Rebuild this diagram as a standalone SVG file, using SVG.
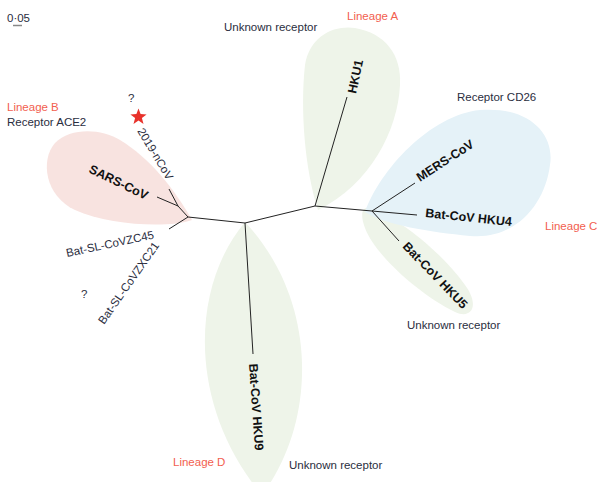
<svg xmlns="http://www.w3.org/2000/svg" width="597" height="482" viewBox="0 0 597 482">
<style>
.lbl{font-family:"Liberation Sans",Arial,sans-serif;font-size:11.5px;fill:#2a2d3e}
.red{font-family:"Liberation Sans",Arial,sans-serif;font-size:11.5px;fill:#f2604f}
.b{font-family:"Liberation Sans",Arial,sans-serif;font-size:12.5px;font-weight:bold;fill:#111}
.br{fill:none;stroke:#222;stroke-width:1}
</style>
<rect width="597" height="482" fill="#fff"/>
<g id="blobs">
<path id="blob-B" d="M192,220 C170,228 110,226 75,210 C45,196 40,160 55,143 C70,128 100,128 120,140 C150,158 175,190 192,220 Z" fill="#f8e3e0"/>
<path id="blob-A" d="M318,210 C305,170 300,110 305,65 C310,35 335,25 355,28 C385,33 402,55 400,85 C398,130 370,185 318,210 Z" fill="#eef4e9"/>
<path id="blob-HKU5" d="M368,208 C395,215 440,250 465,285 C480,305 472,320 455,312 C420,295 375,255 365,228 C360,215 362,207 368,208 Z" fill="#eef4e9"/>
<path id="blob-C" d="M365,212 C380,170 430,115 480,110 C530,106 555,135 550,165 C545,205 515,240 470,236 C430,232 385,225 365,212 Z" fill="#e5f2f8"/>
<path id="blob-D" d="M245,222 C188,290 190,410 262,495 C318,420 318,300 245,222 Z" fill="#eef4e9"/>
</g>
<g id="connectors">
<path class="br" d="M188,217 L245,223 L315,206 L372,211"/>
<path class="br" d="M188,217 L178,206 L157,197 M178,206 L169,189 M188,217 L169,229"/>
<path class="br" d="M245,223 L253,354"/>
<path class="br" d="M315,206 L347,97"/>
<path class="br" d="M372,211 L415,183 M372,211 L417,215 M372,211 L399,241"/>
</g>
<g id="scale">
<text class="lbl" x="7" y="22" font-size="11">0·05</text>
<line x1="13" y1="25.5" x2="22" y2="25.5" stroke="#888" stroke-width="1.5"/>
</g>
<g id="node-lineageB">
<text class="red" x="7" y="111">Lineage B</text>
<text class="lbl" x="7" y="126">Receptor ACE2</text>
</g>
<g id="node-2019nCoV">
<text class="lbl" x="128" y="102" font-size="13">?</text>
<polygon points="138.5,108.5 140.6,114.1 146.6,114.4 141.9,118.1 143.5,123.9 138.5,120.6 133.5,123.9 135.1,118.1 130.4,114.4 136.4,114.1" fill="#e8322b"/>
<text class="lbl" font-size="12" transform="translate(137,131) rotate(59)">2019-nCoV</text>
</g>
<g id="node-SARS">
<text class="b" transform="translate(88,172) rotate(26)">SARS-CoV</text>
</g>
<g id="node-ZC45">
<text class="lbl" font-size="12" transform="translate(67,257) rotate(-12)">Bat-SL-CoVZC45</text>
</g>
<g id="node-ZXC21">
<text class="lbl" font-size="12" transform="translate(104,325) rotate(-55)">Bat-SL-CoVZXC21</text>
<text class="lbl" x="81" y="298" font-size="13">?</text>
</g>
<g id="node-HKU1">
<text class="lbl" x="224" y="31">Unknown receptor</text>
<text class="red" x="347" y="20">Lineage A</text>
<text class="b" transform="translate(356,94) rotate(-78)">HKU1</text>
</g>
<g id="node-MERS">
<text class="lbl" x="457" y="101">Receptor CD26</text>
<text class="b" transform="translate(420,182) rotate(-33)">MERS-CoV</text>
</g>
<g id="node-HKU4">
<text class="b" transform="translate(425,217) rotate(6)">Bat-CoV HKU4</text>
<text class="red" x="545" y="230">Lineage C</text>
</g>
<g id="node-HKU5">
<text class="b" transform="translate(402,247) rotate(46)">Bat-CoV HKU5</text>
<text class="lbl" x="407" y="329">Unknown receptor</text>
</g>
<g id="node-HKU9">
<text class="b" font-size="13" transform="translate(249,364) rotate(86)">Bat-CoV HKU9</text>
<text class="red" x="173" y="466">Lineage D</text>
<text class="lbl" x="289" y="469">Unknown receptor</text>
</g>
</svg>
